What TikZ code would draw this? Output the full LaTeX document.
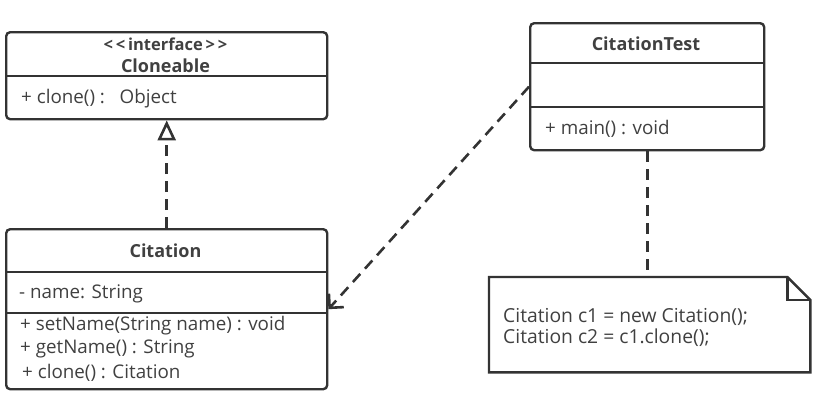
\documentclass[tikz,border=0pt]{standalone}
\usepackage{fontspec}
\setmainfont{Open Sans}
\usetikzlibrary{arrows.meta}
\definecolor{umlline}{HTML}{333333}
\definecolor{umltext}{HTML}{404040}
\tikzset{
  classbox/.style={draw=umlline, line width=2.4pt, rounded corners=4pt, anchor=north west, inner sep=0pt},
  divider/.style={draw=umlline, line width=2.4pt},
  member/.style={anchor=west, inner sep=0pt, text=umltext, font=\fontsize{18.8}{21}\selectfont},
  title/.style={inner sep=0pt, text=umltext, font=\fontsize{18}{20}\selectfont\bfseries},
  link/.style={draw=umlline, line width=2.6pt, dash pattern=on 11pt off 7pt},
}

\begin{document}
\begin{tikzpicture}[x=1pt, y=-1pt]
  \useasboundingbox (0,0) rectangle (821,402);
  \node[classbox, minimum width=321, minimum height=87] (cloneable) at (5,31) {};
  \draw[divider] (cloneable.west |- 0,76) -- (cloneable.east |- 0,76);
  \node[title, font=\fontsize{16.5}{18}\selectfont\bfseries] (stereo) at (165.5,44) {<\,<\,interface\,>\,>};
  \node[title] (cloneName) at (165.5,66) {Cloneable};
  \node[member] (cloneOp) at (21,99) {+ clone() :\ \ \ Object};

  \node[classbox, minimum width=321, minimum height=160] (citation) at (5,228) {};
  \draw[divider] (citation.west |- 0,272) -- (citation.east |- 0,272);
  \draw[divider] (citation.west |- 0,313) -- (citation.east |- 0,313);
  \node[title] (citeName) at (165.5,251) {Citation};
  \node[member] (citeAttr) at (19,294) {- name: String};
  \node[member] (citeSet) at (20,326) {+ setName(String name) : void};
  \node[member] (citeGet) at (20,349) {+ getName() : String};
  \node[member] (citeClone) at (22,373) {+ clone() : Citation};

  \node[classbox, minimum width=234, minimum height=127] (test) at (529,22) {};
  \draw[divider] (test.west |- 0,63) -- (test.east |- 0,63);
  \draw[divider] (test.west |- 0,107) -- (test.east |- 0,107);
  \node[title] (testName) at (646,44) {CitationTest};
  \node[member] (testMain) at (545,129) {+ main() : void};

  \node[inner sep=0pt, minimum width=321, minimum height=95, anchor=north west] (note) at (489,277) {};
  \draw[divider] (note.north west) -- ([xshift=-23pt]note.north east) -- ([yshift=-23pt]note.north east)
    -- (note.south east) -- (note.south west) -- cycle;
  \draw[divider] ([xshift=-23pt]note.north east) |- ([yshift=-23pt]note.north east);
  \node[member, align=left, font=\fontsize{19.3}{21}\selectfont] (noteText) at (503,327) {Citation c1 = new Citation();\\Citation c2 = c1.clone();};

  \draw[link, -{Triangle[open, length=20pt, width=18pt]}] (citation.north) -- (cloneable.south);
  \draw[link, -{Straight Barb[length=10pt, width=20pt]}] (test.west) -- (citation.east);
  \draw[link] (test.south) -- (test.south |- note.north);
\end{tikzpicture}
\end{document}
